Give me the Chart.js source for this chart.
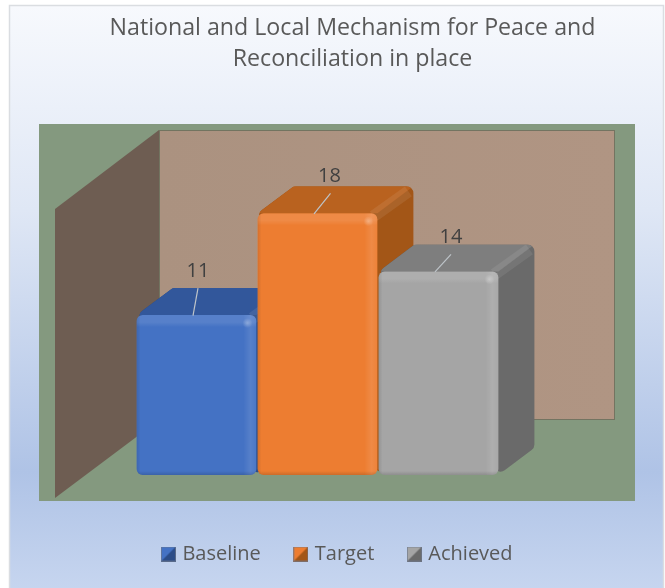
<!DOCTYPE html>
<html>
<head>
<meta charset="utf-8">
<script src="https://cdn.jsdelivr.net/npm/chart.js@4"></script>
<style>html,body{margin:0;padding:0;background:#fff}canvas{display:block}</style>
</head>
<body>
<canvas id="c" width="665" height="588"></canvas>
<script>
const categories = ['Mechanisms in place'];
const seriesNames = ['Baseline', 'Target', 'Achieved'];
const seriesValues = [[11], [18], [14]];
const titleLines = ['National and Local Mechanism for Peace and', 'Reconciliation in place'];

const frontColors = ['#4472C4', '#ED7D31', '#A5A5A5'];
const topColors = ['#32579B', '#B9621F', '#7E7E7E'];
const sideColors = ['#2B4C88', '#A35617', '#6A6A6A'];
const labelOffsets = [[1.5, -44], [12, -36.5], [12.5, -34.5]];
const leaderOffsets = [[1.5, -27], [13, -20], [12.5, -17]];
const DEPTH_X = 36, DEPTH_Y = -27;
const FONT = '"Open Sans", sans-serif';

function roundedPoly(ctx, pts, r) {
  const n = pts.length;
  const a = pts[n - 1], b = pts[0];
  ctx.beginPath();
  ctx.moveTo((a[0] + b[0]) / 2, (a[1] + b[1]) / 2);
  for (let i = 0; i < n; i++) {
    const p = pts[i], q = pts[(i + 1) % n];
    ctx.arcTo(p[0], p[1], (p[0] + q[0]) / 2, (p[1] + q[1]) / 2, r);
  }
  ctx.closePath();
}

const scene = {
  id: 'scene',
  afterLayout(chart) {
    // the reference centres its title and legend right of the canvas middle
    chart.titleBlock.left += 20; chart.titleBlock.right += 20;
    chart.legend.left += 6; chart.legend.right += 6;
  },
  beforeDraw(chart) {
    const { ctx, chartArea: a } = chart;
    ctx.save();
    ctx.fillStyle = '#ffffff';
    ctx.fillRect(0, 0, 665, 588);
    const g = ctx.createLinearGradient(0, 6, 0, 588);
    g.addColorStop(0, '#F7F9FD');
    g.addColorStop(0.35, '#DFE7F5');
    g.addColorStop(0.8, '#AFC3E6');
    g.addColorStop(1, '#C6D5EF');
    ctx.fillStyle = g;
    ctx.fillRect(10, 6, 653, 582);
    ctx.strokeStyle = '#DADDE1';
    ctx.lineWidth = 1.5;
    ctx.strokeRect(9.5, 5.5, 654, 590);

    // plot backdrop and walls, placed relative to the chart area
    const L = a.left, B = a.bottom;
    ctx.fillStyle = '#84997F';
    ctx.fillRect(L - 97, B - 351, 596, 377);
    const wx = L + 23, wr = L + 479, wt = B - 345, wb = B - 55;
    const wg = ctx.createLinearGradient(wx, 0, wr, 0);
    wg.addColorStop(0, '#AB9280');
    wg.addColorStop(1, '#B09583');
    ctx.fillStyle = wg;
    ctx.fillRect(wx, wt, wr - wx, wb - wt);
    ctx.strokeStyle = 'rgba(95,105,85,0.75)';
    ctx.lineWidth = 1;
    ctx.strokeRect(wx + 0.5, wt + 0.5, wr - wx - 1, wb - wt - 1);
    ctx.beginPath();
    ctx.moveTo(wx, wt);
    ctx.lineTo(L - 81, wt + 79);
    ctx.lineTo(L - 81, B + 23);
    ctx.lineTo(wx, wb);
    ctx.closePath();
    ctx.fillStyle = '#6E5D52';
    ctx.fill();
    ctx.restore();
  },
  beforeDatasetsDraw(chart) {
    const { ctx } = chart;
    ctx.save();
    chart.data.datasets.forEach((ds, i) => {
      const b = chart.getDatasetMeta(i).data[0];
      const l = b.x - b.width / 2, r = b.x + b.width / 2, y = b.y, base = b.base;
      const dx = DEPTH_X, dy = DEPTH_Y;
      ctx.save();
      roundedPoly(ctx, [[l, y], [l + dx, y + dy], [r + dx, y + dy], [r + dx, base + dy], [r, base]], 7);
      ctx.clip();
      ctx.fillStyle = sideColors[i];
      ctx.fillRect(l, y + dy, r - l + dx + 1, base - y - dy + 1);
      ctx.beginPath();
      ctx.moveTo(l, y); ctx.lineTo(r, y); ctx.lineTo(r + dx, y + dy); ctx.lineTo(l + dx, y + dy);
      ctx.closePath();
      ctx.fillStyle = topColors[i];
      ctx.fill();
      // bevelled ridge between top and side faces
      ctx.beginPath();
      ctx.moveTo(r - 4, y + 3);
      ctx.lineTo(r + dx - 5, y + dy + 5);
      ctx.strokeStyle = 'rgba(255,255,255,0.08)';
      ctx.lineWidth = 12;
      ctx.stroke();
      ctx.restore();
    });
    ctx.restore();
  },
  afterDatasetsDraw(chart) {
    const { ctx } = chart;
    ctx.save();
    chart.data.datasets.forEach((ds, i) => {
      const b = chart.getDatasetMeta(i).data[0];
      const l = b.x - b.width / 2, r = b.x + b.width / 2, y = b.y, base = b.base;
      ctx.save();
      ctx.beginPath();
      ctx.roundRect(l, y, r - l, base - y, 6);
      ctx.clip();
      let g = ctx.createLinearGradient(0, y, 0, y + 12);
      g.addColorStop(0, 'rgba(255,255,255,0.10)');
      g.addColorStop(0.6, 'rgba(255,255,255,0.10)');
      g.addColorStop(1, 'rgba(255,255,255,0)');
      ctx.fillStyle = g;
      ctx.fillRect(l, y, r - l, 12);
      g = ctx.createLinearGradient(r - 13, 0, r, 0);
      g.addColorStop(0, 'rgba(255,255,255,0)');
      g.addColorStop(0.55, 'rgba(255,255,255,0.10)');
      g.addColorStop(1, 'rgba(255,255,255,0.04)');
      ctx.fillStyle = g;
      ctx.fillRect(r - 13, y, 13, base - y);
      g = ctx.createLinearGradient(l, 0, l + 4, 0);
      g.addColorStop(0, 'rgba(0,0,0,0.10)');
      g.addColorStop(1, 'rgba(0,0,0,0)');
      ctx.fillStyle = g;
      ctx.fillRect(l, y, 4, base - y);
      g = ctx.createLinearGradient(0, base - 4, 0, base);
      g.addColorStop(0, 'rgba(0,0,0,0)');
      g.addColorStop(1, 'rgba(0,0,0,0.14)');
      ctx.fillStyle = g;
      ctx.fillRect(l, base - 4, r - l, 4);
      g = ctx.createRadialGradient(r - 9, y + 8, 0, r - 9, y + 8, 5);
      g.addColorStop(0, 'rgba(255,255,255,0.28)');
      g.addColorStop(1, 'rgba(255,255,255,0)');
      ctx.fillStyle = g;
      ctx.fillRect(r - 15, y + 2, 12, 12);
      ctx.restore();

      // leader line and data label
      const lead = leaderOffsets[i], lab = labelOffsets[i];
      ctx.beginPath();
      ctx.moveTo(b.x - 3.5, y + 0.5);
      ctx.lineTo(b.x + lead[0], y + lead[1]);
      ctx.strokeStyle = '#BEC4C9';
      ctx.lineWidth = 1.2;
      ctx.stroke();
      ctx.fillStyle = '#404040';
      ctx.font = '20px ' + FONT;
      ctx.textAlign = 'center';
      ctx.textBaseline = 'middle';
      ctx.fillText(String(ds.data[0]), b.x + lab[0], y + lab[1]);
    });
    ctx.restore();
  }
};

function swatch(i) {
  const s = document.createElement('canvas');
  s.width = 15; s.height = 15;
  const c = s.getContext('2d');
  c.fillStyle = sideColors[i];
  c.fillRect(0, 0, 15, 15);
  c.beginPath();
  c.moveTo(0, 0); c.lineTo(15, 0); c.lineTo(0, 15); c.closePath();
  c.fillStyle = frontColors[i];
  c.fill();
  c.strokeStyle = 'rgba(110,120,140,0.7)';
  c.strokeRect(0.5, 0.5, 14, 14);
  return s;
}

const spacer = (w) => ({
  display: true,
  ticks: { display: false },
  grid: { display: false, drawTicks: false },
  border: { display: false },
  afterFit(s) { s.width = w; }
});

new Chart(document.getElementById('c'), {
  type: 'bar',
  data: {
    labels: categories,
    datasets: seriesNames.map((name, i) => ({
      label: name,
      data: seriesValues[i],
      backgroundColor: frontColors[i],
      borderRadius: 6,
      borderSkipped: false,
      barPercentage: 0.99,
      categoryPercentage: 1
    }))
  },
  options: {
    responsive: false,
    animation: false,
    layout: { padding: { left: 0, right: 0, top: 0, bottom: 14 } },
    scales: {
      x: {
        display: true,
        ticks: { display: false },
        grid: { display: false, drawTicks: false },
        border: { display: false },
        afterFit(s) { s.height = 33; }
      },
      y: Object.assign(spacer(136), { min: 0, max: 20, position: 'left' }),
      yRight: Object.assign(spacer(166), { position: 'right', axis: 'y' })
    },
    plugins: {
      tooltip: { enabled: false },
      title: {
        display: true,
        text: titleLines,
        color: '#595959',
        font: { family: FONT, size: 23.2, weight: 'normal', lineHeight: 1.34 },
        padding: { top: 13, bottom: 109 }
      },
      legend: {
        position: 'bottom',
        labels: {
          color: '#595959',
          font: { family: FONT, size: 20 },
          padding: 36,
          usePointStyle: true,
          pointStyleWidth: 8,
          boxHeight: 15,
          generateLabels(chart) {
            return chart.data.datasets.map((d, i) => ({
              text: d.label,
              pointStyle: swatch(i),
              fontColor: '#595959',
              lineWidth: 0,
              strokeStyle: 'transparent',
              fillStyle: frontColors[i],
              datasetIndex: i
            }));
          }
        }
      }
    }
  },
  plugins: [scene]
});
</script>
</body>
</html>
